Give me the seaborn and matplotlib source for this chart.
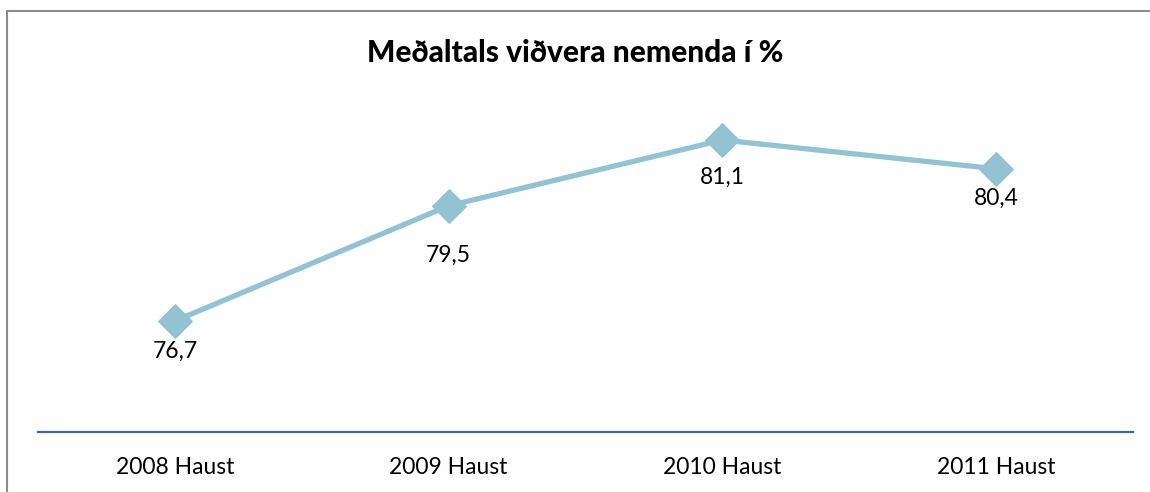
import pandas as pd
import matplotlib
matplotlib.use("Agg")
import matplotlib.pyplot as plt
import seaborn as sns
from matplotlib.lines import Line2D

years = ["2008 Haust", "2009 Haust", "2010 Haust", "2011 Haust"]
values = [76.7, 79.5, 81.1, 80.4]
labels = ["76,7", "79,5", "81,1", "80,4"]
# how far below each point its label sits (points), as placed in the original
label_drop = [22, 36, 27, 21]

df = pd.DataFrame({"year": years, "value": values})

sns.set_style("white")
plt.rcParams["font.family"] = ["Lato", "DejaVu Sans"]

fig = plt.figure(figsize=(11.5, 4.92), dpi=100)
ax = fig.add_axes([38 / 1150, 60 / 492, 1095 / 1150, 329 / 492])

sns.lineplot(df, x="year", y="value", ax=ax, color="#93C3D3", linewidth=3.8,
             marker="D", markersize=17, markeredgecolor="#93C3D3", sort=False)

for i, (v, lab, d) in enumerate(zip(values, labels, label_drop)):
    ax.annotate(lab, (i, v), xytext=(0, -d), textcoords="offset points",
                ha="center", va="center", fontsize=16.5, color="black")

ax.set_xlim(-0.5, 3.5)
ax.set_ylim(74, 82)
ax.set_yticks([])
ax.set_xlabel("")
ax.set_ylabel("")
ax.tick_params(axis="x", length=0, pad=18, labelsize=16.5, labelcolor="black")
for s in ["top", "right", "left"]:
    ax.spines[s].set_visible(False)
ax.spines["bottom"].set_color("#44689A")
ax.spines["bottom"].set_linewidth(1.6)

fig.text(0.5, 1 - 53 / 492, "Meðaltals viðvera nemenda í %", ha="center", va="center",
         fontsize=21.5, fontweight="black", color="black")

# grey frame on top and left
fig.add_artist(Line2D([7 / 1150, 1.0], [1 - 11 / 492, 1 - 11 / 492], color="#8c8c8c", lw=1.5))
fig.add_artist(Line2D([7 / 1150, 7 / 1150], [0, 1 - 11 / 492], color="#8c8c8c", lw=1.5))

fig.savefig("out.png", dpi=100)
